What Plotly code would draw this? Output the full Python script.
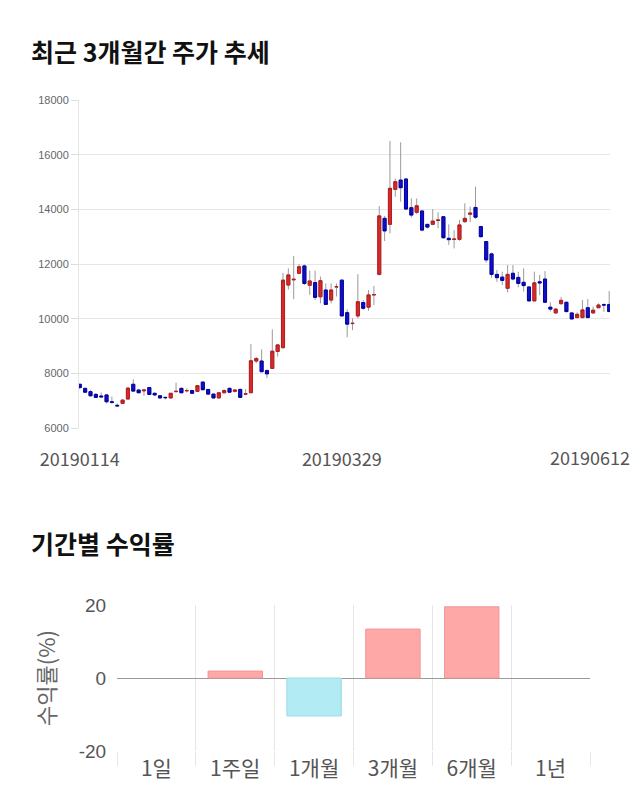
import pandas as pd
import plotly.graph_objects as go

# ---------------- data ----------------
holidays = ["2019-02-04", "2019-02-05", "2019-02-06", "2019-02-07", "2019-03-01",
            "2019-05-01", "2019-05-06", "2019-06-06"]
all_days = pd.bdate_range("2019-01-14", "2019-06-12")
dates = [d.strftime("%Y%m%d") for d in all_days if d.strftime("%Y-%m-%d") not in holidays]

opens = [7600, 7450, 7330, 7230, 7170, 7210, 6960, 6830, 6900, 7060,
         7600, 7390, 7360, 7480, 7270, 7180, 7120, 7100, 7330, 7450,
         7360, 7370, 7340, 7680, 7410, 7240, 7100, 7290, 7450, 7340,
         7410, 7240, 7290, 8450, 8450, 8100, 8180, 8800, 8940, 11230,
         11420, 11660, 11930, 11220, 11320, 10800, 11050, 10680, 11160, 11410,
         10220, 9820, 10100, 10590, 10420, 10870, 11620, 13670, 13450, 14730,
         15070, 15110, 14060, 13890, 13940, 13450, 13450, 13590, 13730, 12940,
         12900, 12900, 13550, 13820, 14070, 13370, 12820, 12370, 11620, 11520,
         11110, 11660, 11510, 11330, 11160, 10650, 11350, 11450, 10420, 10210,
         10550, 10600, 10210, 10040, 10040, 10400, 10210, 10400, 10510, 10520]
highs = [7620, 7480, 7380, 7280, 7300, 7230, 7150, 6900, 7050, 7480,
         7780, 7420, 7420, 7500, 7290, 7200, 7150, 7280, 7660, 7480,
         7450, 7400, 7560, 7700, 7430, 7260, 7310, 7420, 7480, 7420,
         7450, 7420, 9070, 8600, 8880, 8150, 9610, 9080, 11680, 11840,
         12290, 12000, 11980, 11760, 11760, 11540, 11290, 11290, 11290, 11430,
         10340, 10010, 11630, 10680, 11050, 11200, 14120, 13760, 16500, 15130,
         16450, 15130, 14400, 14400, 13960, 13470, 14010, 13890, 13750, 13450,
         13240, 13610, 14220, 14100, 14830, 13400, 12840, 12420, 11780, 11720,
         11960, 11960, 11720, 11840, 11170, 11720, 11600, 11740, 10600, 10380,
         10800, 10620, 10230, 10230, 10680, 10720, 10440, 10560, 10560, 11010]
lows = [7420, 7280, 7150, 7100, 7100, 6900, 6880, 6790, 6880, 7050,
        7330, 7270, 7180, 7200, 7180, 7060, 7050, 7080, 7300, 7270,
        7300, 7250, 7320, 7380, 7210, 7080, 7080, 7260, 7280, 7300,
        7100, 7220, 7280, 8370, 8040, 7820, 8540, 8610, 8900, 11070,
        10710, 11620, 11230, 10870, 10680, 10560, 10500, 10560, 10810, 10090,
        9320, 9580, 10010, 10320, 10290, 10500, 11580, 12840, 13120, 14460,
        14280, 13990, 13700, 13830, 13200, 13300, 13420, 13310, 12940, 12700,
        12570, 12850, 13500, 13530, 13650, 12960, 12050, 11500, 11350, 11230,
        10960, 11400, 11150, 10990, 10630, 10630, 10860, 10580, 10260, 10180,
        10500, 10220, 9980, 10010, 10010, 10020, 10180, 10380, 10250, 10240]
closes = [7480, 7310, 7180, 7120, 7140, 6960, 6940, 6810, 7020, 7460,
          7350, 7290, 7390, 7230, 7210, 7100, 7110, 7270, 7340, 7290,
          7370, 7270, 7550, 7400, 7240, 7100, 7290, 7370, 7310, 7390,
          7120, 7250, 8460, 8540, 8060, 7980, 8810, 9040, 11410, 11600,
          11440, 11900, 11290, 11380, 10780, 11390, 10520, 11050, 11170, 10100,
          9800, 9830, 10620, 10380, 10870, 10880, 13760, 13210, 14770, 15010,
          14790, 14010, 13790, 14130, 13240, 13350, 13570, 13610, 12960, 12890,
          12910, 13430, 13670, 13860, 13710, 13000, 12150, 11620, 11500, 11400,
          11620, 11450, 11290, 11210, 10650, 11310, 11310, 10600, 10350, 10350,
          10670, 10260, 9990, 10160, 10320, 10040, 10310, 10500, 10500, 10260]

date_ticks = ["20190114", "20190329", "20190612"]
price_ticks = [6000, 8000, 10000, 12000, 14000, 16000, 18000]

periods = ["1일", "1주일", "1개월", "3개월", "6개월", "1년"]
returns = [0.0, 1.9, -10.4, 13.4, 19.5, 0.0]
return_ticks = [-20, 0, 20]

# ---------------- figure ----------------
W, H = 640, 810
fig = go.Figure()

# wicks (gray) - drawn first
fig.add_trace(go.Candlestick(
    x=dates, open=opens, high=highs, low=lows, close=closes,
    increasing=dict(line=dict(color="#9a9a9a", width=1), fillcolor="rgba(0,0,0,0)"),
    decreasing=dict(line=dict(color="#9a9a9a", width=1), fillcolor="rgba(0,0,0,0)"),
    whiskerwidth=0, xaxis="x", yaxis="y", hoverinfo="skip", showlegend=False))

# bodies
body_hi = [max(o, c) for o, c in zip(opens, closes)]
body_lo = [min(o, c) for o, c in zip(opens, closes)]
fig.add_trace(go.Candlestick(
    x=dates, open=opens, high=body_hi, low=body_lo, close=closes,
    increasing=dict(line=dict(color="#b81c1c", width=1), fillcolor="#d42a2a"),
    decreasing=dict(line=dict(color="#0000a8", width=1), fillcolor="#1010c4"),
    whiskerwidth=0, xaxis="x", yaxis="y", showlegend=False))

bar_colors = ["#ffa8a8" if v >= 0 else "#b2ebf4" for v in returns]
bar_lines = ["#f29494" if v >= 0 else "#9adbe6" for v in returns]
bar_lw = [0 if v == 0 else 1 for v in returns]
fig.add_trace(go.Bar(
    x=periods, y=returns, marker=dict(color=bar_colors, line=dict(color=bar_lines, width=bar_lw)),
    xaxis="x2", yaxis="y2", showlegend=False))

def px_x(p):
    return p / W

def px_y(p):
    return 1 - p / H

grid = "#e6e6e6"
label_font = dict(family="Noto Sans CJK KR", size=18, color="#555")
fig.update_layout(
    width=W, height=H, margin=dict(l=0, r=0, t=0, b=0, autoexpand=False),
    paper_bgcolor="white", plot_bgcolor="white",
    boxgap=0.18, bargap=0.31,
    xaxis=dict(domain=[px_x(79), px_x(610)], type="category", range=[-0.15, 99.15],
               tickmode="array", tickvals=date_ticks[:-1], ticktext=date_ticks[:-1],
               showgrid=False, showline=False, zeroline=False, automargin=False,
               ticks="outside", ticklen=15, tickcolor="rgba(0,0,0,0)",
               tickfont=label_font,
               rangeslider=dict(visible=False), anchor="y"),
    yaxis=dict(domain=[px_y(428), px_y(100)], range=[6000, 18000],
               tickmode="array", tickvals=price_ticks, ticktext=[str(t) for t in price_ticks],
               showgrid=True, gridcolor=grid, gridwidth=1, zeroline=False, automargin=False,
               showline=True, linecolor=grid, linewidth=1,
               ticks="outside", ticklen=7, tickcolor="#dddddd",
               tickfont=dict(family="Liberation Sans", size=11, color="#666"),
               anchor="x"),
    xaxis2=dict(domain=[px_x(117), px_x(590)], type="category", anchor="y2", automargin=False,
                showgrid=True, gridcolor=grid, tickson="boundaries",
                ticks="outside", ticklen=14, tickcolor=grid, showline=False, zeroline=False,
                ticklabelstandoff=3,
                tickfont=dict(family="Noto Sans CJK KR", size=21, color="#555")),
    yaxis2=dict(domain=[px_y(751), px_y(605)], range=[-20, 20],
                tickmode="array", tickvals=return_ticks, ticktext=[str(t) for t in return_ticks],
                showgrid=True, gridcolor=grid, zeroline=True, zerolinecolor="#999", zerolinewidth=1,
                showline=False, ticks="outside", ticklen=6, tickcolor="rgba(0,0,0,0)", automargin=False,
                tickfont=dict(family="Liberation Sans", size=19, color="#555"), anchor="x2"),
)

# last date label: shifted left so it stays inside the page (as in the reference)
fig.add_annotation(text=date_ticks[-1], x=dates.index(date_ticks[-1]), xref="x", y=px_y(457), yref="paper",
                   xanchor="center", yanchor="middle", xshift=-19, showarrow=False,
                   font=label_font)

fig.add_annotation(text="<b>최근 3개월간 주가 추세</b>", x=px_x(29), y=px_y(51), xref="paper", yref="paper",
                   xanchor="left", yanchor="middle", showarrow=False,
                   font=dict(family="Noto Sans CJK KR", size=25, color="#111"))
fig.add_annotation(text="<b>기간별 수익률</b>", x=px_x(29), y=px_y(543), xref="paper", yref="paper",
                   xanchor="left", yanchor="middle", showarrow=False,
                   font=dict(family="Noto Sans CJK KR", size=25, color="#111"))
fig.add_annotation(text="수익률(%)", x=px_x(45), y=px_y(678), xref="paper", yref="paper",
                   xanchor="center", yanchor="middle", textangle=-90, showarrow=False,
                   font=dict(family="Noto Sans CJK KR", size=22, color="#666"))

fig.write_html("out.html")
